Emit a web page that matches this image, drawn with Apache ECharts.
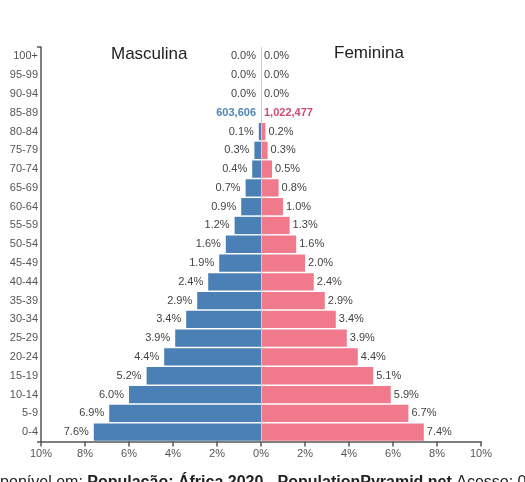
<!DOCTYPE html>
<html>
<head>
<meta charset="utf-8">
<script src="https://cdn.jsdelivr.net/npm/echarts@6/dist/echarts.min.js"></script>
<style>
  html, body { margin: 0; padding: 0; background: #fff; }
  #chart { width: 525px; height: 482px; }
</style>
</head>
<body>
<div id="chart"></div>
<script>
// faixas etárias, de baixo para cima
var ageGroups = ['0-4','5-9','10-14','15-19','20-24','25-29','30-34','35-39','40-44','45-49',
                 '50-54','55-59','60-64','65-69','70-74','75-79','80-84','85-89','90-94','95-99','100+'];
// % da população
var maleValues   = [7.6,6.9,6.0,5.2,4.4,3.9,3.4,2.9,2.4,1.9,1.6,1.2,0.9,0.7,0.4,0.3,0.1,0,0.0,0.0,0.0];
var femaleValues = [7.4,6.7,5.9,5.1,4.4,3.9,3.4,2.9,2.4,2.0,1.6,1.3,1.0,0.8,0.5,0.3,0.2,0,0.0,0.0,0.0];
// linha destacada (85-89) mostra o número absoluto
var highlightIndex = 17;
var maleCount = '603,606';
var femaleCount = '1,022,477';
var xTicks = [-10,-8,-6,-4,-2,0,2,4,6,8,10];

var blue = '#4a80b6';
var pink = '#f07a8b';
var axisColor = '#555';

var maleData = maleValues.map(function(v, i){
    var item = { value: -v };
    if (i === highlightIndex) {
        item.label = { formatter: maleCount, color: '#4f86b8', fontWeight: 'bold' };
    }
    return item;
});
var femaleData = femaleValues.map(function(v, i){
    var item = { value: v };
    if (i === highlightIndex) {
        item.label = { formatter: femaleCount, color: '#cf4a70', fontWeight: 'bold' };
    }
    return item;
});

function pct(p){ return Math.abs(p.value).toFixed(1) + '%'; }

var myChart = echarts.init(document.getElementById('chart'));
var option = {
    animation: false,
    textStyle: { fontFamily: 'Liberation Sans, Arial, sans-serif' },
    grid: { left: 41, right: 44, top: 47, bottom: 40.5, containLabel: false },
    xAxis: {
        type: 'value',
        min: xTicks[0],
        max: xTicks[xTicks.length - 1],
        interval: 2,
        axisLine: { show: true, lineStyle: { color: axisColor, width: 1.5 } },
        axisTick: { show: true, length: 5, lineStyle: { color: axisColor, width: 1.5 } },
        axisLabel: {
            color: '#555', fontSize: 11, margin: 7,
            formatter: function(v){ return Math.abs(v) + '%'; }
        },
        splitLine: { show: false }
    },
    yAxis: [
        {
            type: 'category',
            data: ageGroups,
            axisLine: { show: true, onZero: false, lineStyle: { color: axisColor, width: 1.5 } },
            axisTick: { show: false },
            axisLabel: { color: '#555', fontSize: 11, margin: 3 }
        },
        {
            // só para os traços nas extremidades do eixo
            type: 'value',
            position: 'left',
            offset: 0,
            min: 0, max: 1, interval: 1,
            axisLine: { show: false, onZero: false },
            axisTick: { show: true, length: 4, lineStyle: { color: axisColor, width: 1.5 } },
            axisLabel: { show: false },
            splitLine: { show: false }
        }
    ],
    series: [
        {
            type: 'line',
            data: [],
            silent: true,
            z: 1,
            markLine: {
                silent: true,
                symbol: 'none',
                label: { show: false },
                lineStyle: { color: '#ccc', width: 1, type: 'solid' },
                data: [{ xAxis: 0 }]
            }
        },
        {
            name: 'Masculina',
            type: 'bar',
            stack: 'pop',
            z: 2,
            barCategoryGap: 1.5,
            itemStyle: { color: blue },
            label: {
                show: true, position: 'left', distance: 5,
                color: '#444', fontSize: 11, formatter: pct
            },
            data: maleData
        },
        {
            name: 'Feminina',
            type: 'bar',
            stack: 'pop',
            z: 2,
            barCategoryGap: 1.5,
            itemStyle: { color: pink },
            label: {
                show: true, position: 'right', distance: 3,
                color: '#444', fontSize: 11, formatter: pct
            },
            data: femaleData
        }
    ],
    graphic: [
        {
            type: 'text', left: 111, top: 46,
            style: { text: 'Masculina', fontSize: 17, fill: '#222', fontFamily: 'Liberation Sans, Arial, sans-serif' }
        },
        {
            type: 'text', left: 334, top: 45,
            style: { text: 'Feminina', fontSize: 17, fill: '#222', fontFamily: 'Liberation Sans, Arial, sans-serif' }
        },
        {
            type: 'text', x: -23, y: 475,
            style: {
                text: '{n|Disponível em: }{b|População: África 2020 - PopulationPyramid.net}{n| Acesso: 08 jul. 2020}',
                fontFamily: 'Liberation Sans, Arial, sans-serif',
                rich: {
                    n: { fontSize: 16, fill: '#222' },
                    b: { fontSize: 16, fontWeight: 'bold', fill: '#222' }
                }
            }
        }
    ]
};
myChart.setOption(option);
</script>
</body>
</html>
